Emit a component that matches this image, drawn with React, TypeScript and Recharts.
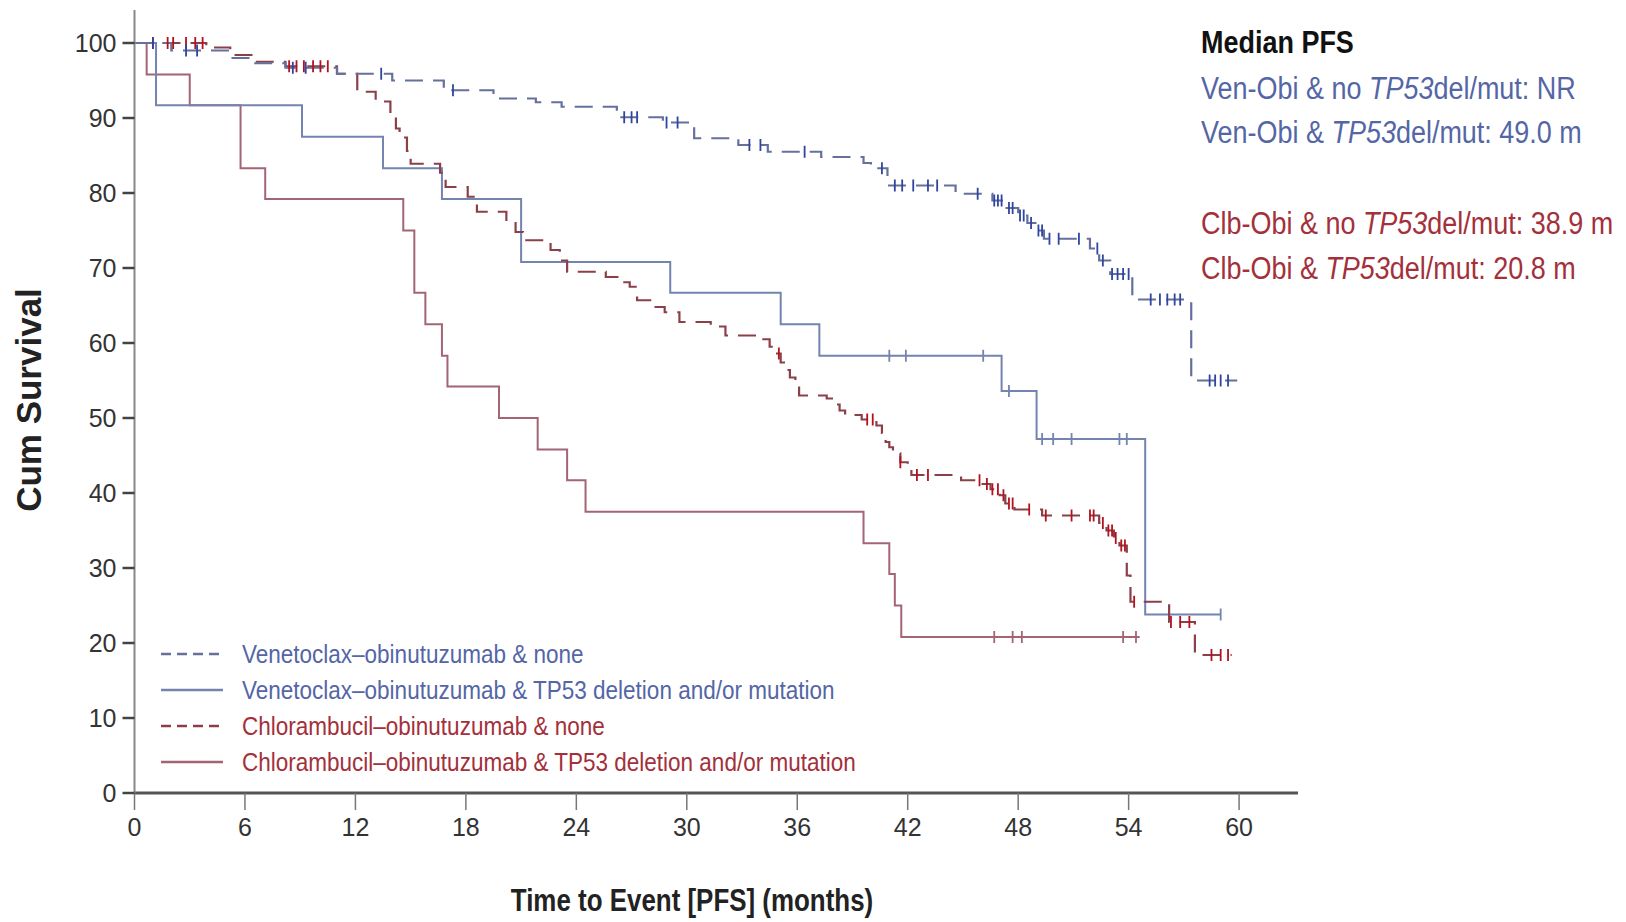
import React from 'react';
import { ComposedChart, Line, Scatter, XAxis, YAxis, Legend } from 'recharts';

// axis ticks
const xTicks = [0, 6, 12, 18, 24, 30, 36, 42, 48, 54, 60];
const yTicks = [0, 10, 20, 30, 40, 50, 60, 70, 80, 90, 100];

// Venetoclax-obinutuzumab & none (KM steps)
const venNoneTimes = [0, 2.0, 5.2, 6.5, 8.2, 11.0, 14.0, 16.8, 19.5, 21.8, 23.2, 26.2, 28.7, 30.4, 32.8, 34.4, 37.3, 39.6, 40.0, 40.9, 44.6, 46.6, 47.3, 48.0, 48.5, 49.0, 49.4, 51.9, 52.4, 53.0, 54.2, 57.4];
const venNoneSurv = [100, 99.0, 98.0, 97.3, 96.7, 95.9, 95.0, 93.7, 92.6, 92.1, 91.5, 90.1, 89.4, 87.3, 86.4, 85.5, 84.8, 84.0, 83.3, 81.0, 79.9, 79.0, 78.0, 77.0, 76.0, 75.0, 73.9, 72.6, 71.0, 69.2, 65.8, 55.0];
const venNoneEnd = 59.9;
const venNoneCensor = [1.0, 2.8, 3.4, 8.6, 9.3, 13.4, 17.3, 26.6, 27.0, 27.3, 28.9, 29.5, 33.4, 34.0, 36.4, 40.6, 41.3, 41.7, 42.3, 43.1, 43.6, 45.8, 46.7, 46.9, 47.1, 47.5, 47.7, 48.1, 48.3, 48.7, 49.1, 49.3, 49.7, 50.2, 51.3, 52.3, 52.6, 53.1, 53.4, 53.7, 54.0, 55.2, 55.7, 56.1, 56.5, 56.8, 58.4, 58.7, 59.0, 59.4];

// Venetoclax-obinutuzumab & TP53 deletion and/or mutation
const venTp53Times = [0, 1.17, 9.1, 13.5, 16.7, 21.0, 29.1, 35.1, 37.2, 47.1, 49.0, 54.9];
const venTp53Surv = [100, 91.7, 87.5, 83.3, 79.2, 70.8, 66.7, 62.5, 58.3, 53.6, 47.2, 23.8];
const venTp53End = 59.0;
const venTp53Censor = [41.0, 41.9, 46.1, 47.5, 49.3, 49.9, 50.9, 53.5, 53.9, 59.0];

// Chlorambucil-obinutuzumab & none
const clbNoneTimes = [0, 3.9, 5.2, 6.5, 8.2, 11.0, 12.1, 13.1, 13.9, 14.2, 14.4, 14.8, 15.0, 16.6, 16.9, 18.1, 18.6, 20.2, 20.7, 21.1, 22.6, 23.1, 23.5, 25.6, 26.4, 26.9, 27.3, 28.1, 28.8, 29.6, 31.3, 32.1, 34.0, 34.5, 34.7, 35.1, 35.4, 35.6, 35.9, 36.1, 37.6, 38.0, 38.3, 38.6, 39.5, 40.3, 40.6, 40.8, 41.0, 41.2, 41.6, 42.0, 42.2, 44.9, 46.0, 46.5, 47.0, 47.3, 47.8, 49.3, 52.4, 52.8, 53.2, 53.5, 53.9, 54.1, 56.2, 57.6];
const clbNoneSurv = [100, 99.4, 98.4, 97.5, 96.9, 95.9, 93.5, 92.2, 90.8, 88.6, 87.4, 85.6, 83.9, 82.7, 80.8, 79.5, 77.5, 76.0, 74.8, 73.7, 72.4, 71.0, 69.5, 68.8, 68.1, 67.5, 65.7, 64.8, 64.1, 62.8, 62.2, 61.0, 60.5, 59.5, 58.6, 57.4, 56.4, 55.4, 54.4, 53.0, 52.6, 51.8, 51.0, 50.4, 49.8, 49.0, 48.0, 46.8, 46.1, 45.3, 44.1, 43.3, 42.4, 41.7, 41.2, 40.5, 39.7, 38.6, 37.8, 37.0, 36.0, 35.0, 34.0, 33.0, 29.0, 25.5, 22.8, 18.4];
const clbNoneEnd = 59.6;
const clbNoneCensor = [1.0, 1.8, 2.1, 2.8, 3.3, 3.7, 8.4, 8.8, 9.2, 9.7, 10.1, 10.5, 35.0, 39.8, 40.1, 41.6, 42.5, 43.1, 45.9, 46.3, 46.6, 46.9, 47.2, 47.5, 47.7, 48.6, 49.5, 50.9, 51.9, 52.1, 52.6, 52.9, 53.1, 53.3, 53.6, 53.8, 54.3, 56.3, 56.8, 57.3, 58.5, 59.0, 59.4];

// Chlorambucil-obinutuzumab & TP53 deletion and/or mutation
const clbTp53Times = [0, 0.66, 3.0, 5.76, 7.1, 14.6, 15.2, 15.8, 16.7, 17.0, 19.8, 21.9, 23.5, 24.5, 39.6, 41.0, 41.3, 41.65];
const clbTp53Surv = [100, 95.8, 91.7, 83.3, 79.2, 75.0, 66.7, 62.5, 58.3, 54.2, 50.0, 45.8, 41.7, 37.5, 33.3, 29.2, 25.0, 20.8];
const clbTp53End = 54.6;
const clbTp53Censor = [46.7, 47.7, 48.2, 53.7, 54.4];

const legendLabels = [
  'Venetoclax–obinutuzumab & none',
  'Venetoclax–obinutuzumab & TP53 deletion and/or mutation',
  'Chlorambucil–obinutuzumab & none',
  'Chlorambucil–obinutuzumab & TP53 deletion and/or mutation',
];

const BLUE_LINE = '#65709c';
const BLUE_SOLID = '#7384b0';
const BLUE_MARK = '#2f45a0';
const RED_LINE = '#8a4048';
const RED_SOLID = '#a46474';
const RED_MARK = '#b3121c';
const BLUE_TEXT = '#5466a6';
const RED_TEXT = '#a3303a';

const SANS = '"Liberation Sans", Arial, sans-serif';

function steps(times: number[], surv: number[], end: number) {
  const pts = times.map((t, i) => ({ t, s: surv[i] }));
  pts.push({ t: end, s: surv[surv.length - 1] });
  return pts;
}

// censor ticks sit on the curve at the censoring time
function marks(times: number[], surv: number[], censor: number[]) {
  return censor.map((c) => {
    let i = 0;
    while (i + 1 < times.length && times[i + 1] <= c) i++;
    return { t: c, s: surv[i] };
  });
}

const tick = (color: string) => (props: any) => {
  const { cx, cy } = props;
  if (cx == null || cy == null) return <g />;
  return <line x1={cx} x2={cx} y1={cy - 6} y2={cy + 6} stroke={color} strokeWidth={1.8} />;
};

const legendStyles = [
  { color: BLUE_LINE, dash: '10 6', text: BLUE_TEXT },
  { color: BLUE_SOLID, dash: undefined, text: BLUE_TEXT },
  { color: RED_LINE, dash: '10 6', text: RED_TEXT },
  { color: RED_SOLID, dash: undefined, text: RED_TEXT },
];

// condensed look: the original uses a narrow face
const narrow = (scale: number): React.CSSProperties => ({
  display: 'inline-block',
  transform: `scaleX(${scale})`,
  transformOrigin: 'left center',
  whiteSpace: 'nowrap',
});

const LegendBox = () => (
  <div style={{ fontFamily: SANS, fontSize: 25 }}>
    {legendLabels.map((label, i) => (
      <div key={label} style={{ height: 36, display: 'flex', alignItems: 'center' }}>
        <svg width={84} height={36} style={{ flexShrink: 0 }}>
          <line x1={3} x2={65} y1={18} y2={18} stroke={legendStyles[i].color} strokeWidth={2.5} strokeDasharray={legendStyles[i].dash} />
        </svg>
        <span style={{ ...narrow(0.9), color: legendStyles[i].text }}>{label}</span>
      </div>
    ))}
  </div>
);

const annoLine = (top: number, color: string, pre: string, post: string, bold = false) => (
  <div style={{ position: 'absolute', left: 1193, top, lineHeight: '36px', fontSize: 31, fontFamily: SANS, color, fontWeight: bold ? 700 : 400 }}>
    <span style={narrow(0.87)}>
      {pre}
      {post !== '' && <i>TP53</i>}
      {post}
    </span>
  </div>
);

export default function App() {
  return (
    <div style={{ position: 'relative', width: 1610, height: 914, background: '#fff' }}>
      <ComposedChart width={1610} height={914} margin={{ top: 2, right: 320, bottom: 69, left: 26.5 }}>
        <XAxis
          dataKey="t"
          type="number"
          domain={[0, 63.2]}
          ticks={xTicks}
          allowDataOverflow
          height={60}
          tickSize={17}
          tickMargin={8}
          axisLine={{ stroke: '#555', strokeWidth: 3 }}
          tickLine={{ stroke: '#777', strokeWidth: 1.5 }}
          tick={{ fontSize: 25, fill: '#333', fontFamily: SANS }}
        />
        <YAxis
          dataKey="s"
          type="number"
          domain={[0, 104.4]}
          ticks={yTicks}
          width={100}
          tickSize={12}
          tickMargin={6}
          axisLine={{ stroke: '#888', strokeWidth: 2 }}
          tickLine={{ stroke: '#444', strokeWidth: 2.5 }}
          tick={{ fontSize: 25, fill: '#333', fontFamily: SANS }}
        />
        <Legend layout="vertical" align="center" verticalAlign="middle" wrapperStyle={{ left: 150, top: 628, width: 760, height: 144 }} content={() => <LegendBox />} />
        <Line data={steps(clbTp53Times, clbTp53Surv, clbTp53End)} dataKey="s" type="stepAfter" stroke={RED_SOLID} strokeWidth={2} dot={false} activeDot={false} isAnimationActive={false} />
        <Line data={steps(venTp53Times, venTp53Surv, venTp53End)} dataKey="s" type="stepAfter" stroke={BLUE_SOLID} strokeWidth={2} dot={false} activeDot={false} isAnimationActive={false} />
        <Line data={steps(clbNoneTimes, clbNoneSurv, clbNoneEnd)} dataKey="s" type="stepAfter" stroke={RED_LINE} strokeWidth={2.2} strokeDasharray="18 10" dot={false} activeDot={false} isAnimationActive={false} />
        <Line data={steps(venNoneTimes, venNoneSurv, venNoneEnd)} dataKey="s" type="stepAfter" stroke={BLUE_LINE} strokeWidth={2.2} strokeDasharray="18 10" dot={false} activeDot={false} isAnimationActive={false} />
        <Scatter data={marks(clbTp53Times, clbTp53Surv, clbTp53Censor)} dataKey="s" shape={tick(RED_SOLID)} isAnimationActive={false} />
        <Scatter data={marks(venTp53Times, venTp53Surv, venTp53Censor)} dataKey="s" shape={tick(BLUE_SOLID)} isAnimationActive={false} />
        <Scatter data={marks(clbNoneTimes, clbNoneSurv, clbNoneCensor)} dataKey="s" shape={tick(RED_MARK)} isAnimationActive={false} />
        <Scatter data={marks(venNoneTimes, venNoneSurv, venNoneCensor)} dataKey="s" shape={tick(BLUE_MARK)} isAnimationActive={false} />
      </ComposedChart>

      <div style={{ position: 'absolute', left: 21, top: 392, transform: 'translate(-50%, -50%) rotate(-90deg)', fontFamily: SANS, fontWeight: 700, fontSize: 35, color: '#222', whiteSpace: 'nowrap' }}>
        Cum Survival
      </div>
      <div style={{ position: 'absolute', left: 684, top: 892, transform: 'translate(-50%, -50%)', fontFamily: SANS, fontWeight: 700, fontSize: 32, color: '#222', whiteSpace: 'nowrap' }}>
        <span style={{ display: 'inline-block', transform: 'scaleX(0.81)' }}>Time to Event [PFS] (months)</span>
      </div>

      {annoLine(17, '#111', 'Median PFS', '', true)}
      {annoLine(63, BLUE_TEXT, 'Ven-Obi & no ', 'del/mut: NR')}
      {annoLine(107, BLUE_TEXT, 'Ven-Obi & ', 'del/mut: 49.0 m')}
      {annoLine(198, RED_TEXT, 'Clb-Obi & no ', 'del/mut: 38.9 m')}
      {annoLine(243, RED_TEXT, 'Clb-Obi & ', 'del/mut: 20.8 m')}
    </div>
  );
}
